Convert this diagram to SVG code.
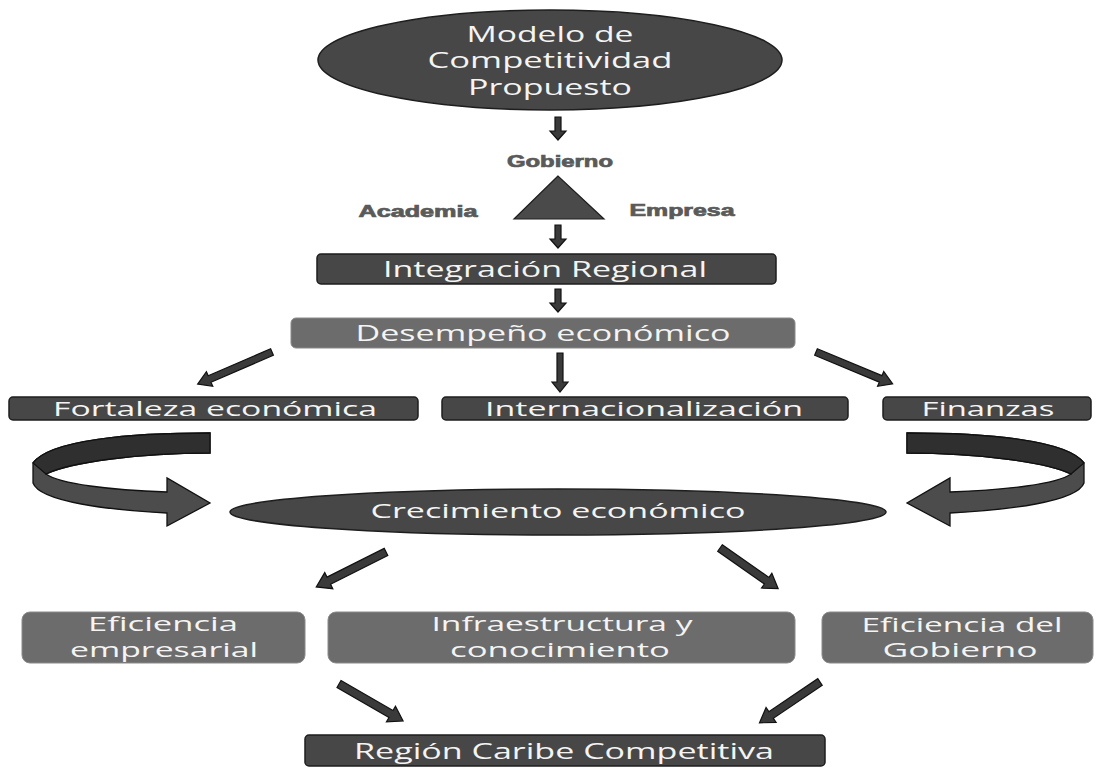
<svg xmlns="http://www.w3.org/2000/svg" width="1098" height="770" viewBox="0 0 1098 770">
<style>
.dark{fill:#474747;stroke:#1e1e1e;stroke-width:1.5}
.light{fill:#6c6c6c;stroke:#8a8a8a;stroke-width:1}
.t{font-family:"Open Sans","Noto Sans","DejaVu Sans",sans-serif;fill:#f4f4f4;text-anchor:middle}
.lbl{font-family:"Liberation Sans",Arial,sans-serif;font-weight:bold;fill:#5a5a5a;stroke:#5a5a5a;stroke-width:0.7;text-anchor:middle;font-size:16px}
.arr{fill:#3a3a3a;stroke:#111;stroke-width:1.2;stroke-linejoin:miter}
.band1{fill:#2f2f2f;stroke:#111;stroke-width:1.3}
.band2{fill:#4c4c4c;stroke:#111;stroke-width:1.3}
</style>
<rect width="1098" height="770" fill="#ffffff"/>

<g id="modelo">
<ellipse class="dark" cx="550" cy="60" rx="232" ry="50"/>
<text class="t" x="550" y="42" font-size="21" textLength="167" lengthAdjust="spacingAndGlyphs">Modelo de</text>
<text class="t" x="550" y="68" font-size="21" textLength="245" lengthAdjust="spacingAndGlyphs">Competitividad</text>
<text class="t" x="550" y="95" font-size="21" textLength="164" lengthAdjust="spacingAndGlyphs">Propuesto</text>
</g>

<g id="triple-helix">
<polygon points="558,176 514,219 604,219" fill="#4a4a4a" stroke="#1e1e1e" stroke-width="1.2"/>
<text class="lbl" x="560" y="167" textLength="106" lengthAdjust="spacingAndGlyphs">Gobierno</text>
<text class="lbl" x="418" y="217" textLength="119" lengthAdjust="spacingAndGlyphs">Academia</text>
<text class="lbl" x="682" y="216" textLength="105" lengthAdjust="spacingAndGlyphs">Empresa</text>
</g>

<g id="integracion">
<rect class="dark" x="317" y="254" width="459" height="30" rx="4"/>
<text class="t" x="545" y="277" font-size="21" textLength="324" lengthAdjust="spacingAndGlyphs">Integración Regional</text>
</g>

<g id="desempeno">
<rect class="light" x="291" y="318" width="504" height="30" rx="5"/>
<text class="t" x="543" y="341" font-size="21" textLength="375" lengthAdjust="spacingAndGlyphs">Desempeño económico</text>
</g>

<g id="fortaleza">
<rect class="dark" x="9" y="397" width="409" height="23" rx="4"/>
<text class="t" x="215" y="416" font-size="20" textLength="324" lengthAdjust="spacingAndGlyphs">Fortaleza económica</text>
</g>

<g id="internacionalizacion">
<rect class="dark" x="442" y="397" width="406" height="23" rx="4"/>
<text class="t" x="644" y="416" font-size="20" textLength="318" lengthAdjust="spacingAndGlyphs">Internacionalización</text>
</g>

<g id="finanzas">
<rect class="dark" x="883" y="397" width="208" height="23" rx="4"/>
<text class="t" x="988" y="416" font-size="20" textLength="133" lengthAdjust="spacingAndGlyphs">Finanzas</text>
</g>

<g id="crecimiento">
<ellipse class="dark" cx="558" cy="512" rx="328" ry="23"/>
<text class="t" x="558" y="518" font-size="20" textLength="375" lengthAdjust="spacingAndGlyphs">Crecimiento económico</text>
</g>

<g id="eficiencia-empresarial">
<rect class="light" x="22" y="612" width="283" height="51" rx="8"/>
<text class="t" x="163" y="631" font-size="20" textLength="150" lengthAdjust="spacingAndGlyphs">Eficiencia</text>
<text class="t" x="164" y="657" font-size="20" textLength="188" lengthAdjust="spacingAndGlyphs">empresarial</text>
</g>

<g id="infraestructura">
<rect class="light" x="328" y="612" width="467" height="51" rx="8"/>
<text class="t" x="562" y="631" font-size="20" textLength="261" lengthAdjust="spacingAndGlyphs">Infraestructura y</text>
<text class="t" x="560" y="657" font-size="20" textLength="220" lengthAdjust="spacingAndGlyphs">conocimiento</text>
</g>

<g id="eficiencia-gobierno">
<rect class="light" x="822" y="612" width="271" height="51" rx="8"/>
<text class="t" x="962" y="632" font-size="20" textLength="201" lengthAdjust="spacingAndGlyphs">Eficiencia del</text>
<text class="t" x="960" y="657" font-size="20" textLength="155" lengthAdjust="spacingAndGlyphs">Gobierno</text>
</g>

<g id="region-caribe">
<rect class="dark" x="305" y="735" width="520" height="31" rx="4"/>
<text class="t" x="564" y="759" font-size="21" textLength="420" lengthAdjust="spacingAndGlyphs">Región Caribe Competitiva</text>
</g>

<g id="connectors">
<path class="arr" d="M555,117 L561,117 L561,131 L566,131 L558,140 L550,131 L555,131 Z"/>
<path class="arr" d="M555,225 L561,225 L561,239 L566,239 L558,248 L550,239 L555,239 Z"/>
<path class="arr" d="M555,289 L561,289 L561,303 L566,303 L558,312 L550,303 L555,303 Z"/>
<path class="arr" d="M557,353 L563,353 L563,382 L568,382 L560,392 L552,382 L557,382 Z"/>
<g transform="translate(272,352) rotate(156.6)"><path class="arr" d="M0,-3.5 L68,-3.5 L68,-8 L81,0 L68,8 L68,3.5 L0,3.5 Z"/></g>
<g transform="translate(816,352) rotate(22.6)"><path class="arr" d="M0,-3.5 L70,-3.5 L70,-8 L83,0 L70,8 L70,3.5 L0,3.5 Z"/></g>
<g transform="translate(386,552) rotate(153.4)"><path class="arr" d="M0,-4 L64,-4 L64,-9 L78,0 L64,9 L64,4 L0,4 Z"/></g>
<g transform="translate(720,548) rotate(35)"><path class="arr" d="M0,-4 L57,-4 L57,-9 L71,0 L57,9 L57,4 L0,4 Z"/></g>
<g transform="translate(339,684) rotate(30)"><path class="arr" d="M0,-4 L60,-4 L60,-9 L74,0 L60,9 L60,4 L0,4 Z"/></g>
<g transform="translate(820,682) rotate(146)"><path class="arr" d="M0,-4 L59,-4 L59,-9 L73,0 L59,9 L59,4 L0,4 Z"/></g>
<g id="curved-left">
<path class="band2" d="M210,433 C130,433 50,440 33,463 L33,483 C40,502 110,510 167,513 L167,526 L210,503 L167,478 L167,492 C110,490 60,484 46,474 C70,462 140,453 210,453 Z"/>
<path class="band1" d="M210,433 C130,433 50,440 33,463 L46,474 C70,462 140,453 210,453 Z"/>
</g>
<g id="curved-right" transform="translate(1117,0) scale(-1,1)">
<path class="band2" d="M210,433 C130,433 50,440 33,463 L33,483 C40,502 110,510 167,513 L167,526 L210,503 L167,478 L167,492 C110,490 60,484 46,474 C70,462 140,453 210,453 Z"/>
<path class="band1" d="M210,433 C130,433 50,440 33,463 L46,474 C70,462 140,453 210,453 Z"/>
</g>
</g>
</svg>
